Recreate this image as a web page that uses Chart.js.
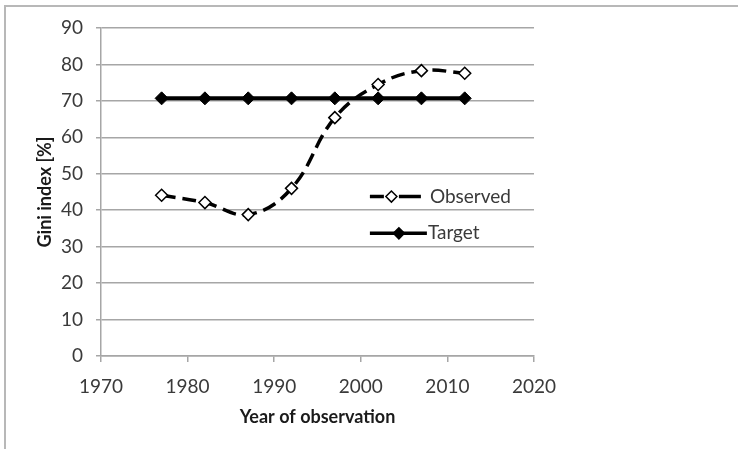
<!DOCTYPE html>
<html>
<head>
<meta charset="utf-8">
<script src="https://cdn.jsdelivr.net/npm/chart.js@4"></script>
<style>
  html, body { margin: 0; padding: 0; background: #fff; }
  #wrap { position: relative; width: 738px; height: 449px; }
  #frame { position: absolute; left: 4px; top: 5px; right: 0; bottom: 0;
           border-top: 2px solid #b8b8b8; border-left: 2px solid #b8b8b8; }
  #myChart { position: absolute; left: 0; top: 0; }
</style>
</head>
<body>
<div id="wrap">
  <div id="frame"></div>
  <canvas id="myChart" width="738" height="449"></canvas>
</div>
<script>
const years = [1977, 1982, 1987, 1992, 1997, 2002, 2007, 2012];
const observed = [44.1, 42.1, 38.8, 46.0, 65.4, 74.5, 78.3, 77.6];
const target = [70.7, 70.7, 70.7, 70.7, 70.7, 70.7, 70.7, 70.7];
const xTicks = [1970, 1980, 1990, 2000, 2010, 2020];
const yTicks = [0, 10, 20, 30, 40, 50, 60, 70, 80, 90];

const gridColor = "#a6a6a6";
const textColor = "#3a3a3a";

// legend drawn inside the plot, like the Excel original
const insideLegend = {
  id: "insideLegend",
  afterDraw(chart) {
    const c = chart.ctx;
    const a = chart.chartArea;
    const x0 = a.left + (a.right - a.left) * 0.621;
    const rows = [
      { label: "Observed", y: a.top + (a.bottom - a.top) * 0.514, dashed: true },
      { label: "Target", y: a.top + (a.bottom - a.top) * 0.626, dashed: false },
    ];
    c.save();
    c.font = "19px Lato";
    c.textBaseline = "middle";
    rows.forEach((r) => {
      c.strokeStyle = "#000";
      c.lineWidth = 3.5;
      c.beginPath();
      if (r.dashed) {
        c.moveTo(x0, r.y);
        c.lineTo(x0 + 14, r.y);
        c.moveTo(x0 + 29, r.y);
        c.lineTo(x0 + 51, r.y);
      } else {
        c.moveTo(x0, r.y);
        c.lineTo(x0 + 57, r.y);
      }
      c.stroke();
      const cx = r.dashed ? x0 + 21.5 : x0 + 29;
      const rad = 5.5;
      c.beginPath();
      c.moveTo(cx, r.y - rad);
      c.lineTo(cx + rad, r.y);
      c.lineTo(cx, r.y + rad);
      c.lineTo(cx - rad, r.y);
      c.closePath();
      c.fillStyle = r.dashed ? "#fff" : "#000";
      c.fill();
      c.lineWidth = 1.5;
      c.stroke();
      c.fillStyle = textColor;
      c.fillText(r.label, r.dashed ? x0 + 60 : x0 + 58, r.y);
    });
    c.restore();
  },
};

new Chart(document.getElementById("myChart"), {
  type: "line",
  data: {
    datasets: [
      {
        label: "Observed",
        data: years.map((y, i) => ({ x: y, y: observed[i] })),
        borderColor: "#000",
        borderWidth: 3.5,
        borderDash: [14, 7],
        tension: 0.4,
        pointStyle: "rectRot",
        pointRadius: 6,
        pointBackgroundColor: "#fff",
        pointBorderColor: "#000",
        pointBorderWidth: 1.5,
      },
      {
        label: "Target",
        data: years.map((y, i) => ({ x: y, y: target[i] })),
        borderColor: "#000",
        borderWidth: 4,
        tension: 0,
        pointStyle: "rectRot",
        pointRadius: 6.5,
        pointBackgroundColor: "#000",
        pointBorderColor: "#000",
        pointBorderWidth: 1,
      },
    ],
  },
  options: {
    responsive: false,
    animation: false,
    layout: { padding: { top: 28, right: 204, left: 0, bottom: 0 } },
    plugins: {
      legend: { display: false },
      tooltip: { enabled: false },
    },
    scales: {
      x: {
        type: "linear",
        min: xTicks[0],
        max: xTicks[xTicks.length - 1],
        afterBuildTicks: (s) => { s.ticks = xTicks.map((v) => ({ value: v })); },
        afterFit: (s) => { s.height = 93; },
        grid: { drawOnChartArea: false, drawTicks: true, tickLength: 6, color: gridColor, lineWidth: 1.5 },
        border: { color: gridColor, width: 1.5 },
        ticks: {
          padding: 13,
          color: textColor,
          font: { family: "Lato", size: 19 },
          maxRotation: 0,
          callback: (v) => String(v),
        },
        title: {
          display: true,
          text: "Year of observation",
          color: "#1a1a1a",
          font: { family: "Lato", size: 18, weight: "bold" },
          padding: { top: 0, bottom: 21 },
        },
      },
      y: {
        min: yTicks[0],
        max: yTicks[yTicks.length - 1],
        afterBuildTicks: (s) => { s.ticks = yTicks.map((v) => ({ value: v })); },
        afterFit: (s) => { s.width = 101; },
        grid: { color: gridColor, lineWidth: 1.5, tickLength: 5 },
        border: { color: gridColor, width: 1.5 },
        ticks: { padding: 13, color: textColor, font: { family: "Lato", size: 19 } },
        title: {
          display: true,
          text: "Gini index [%]",
          color: "#1a1a1a",
          font: { family: "Lato", size: 18, weight: "bold" },
          padding: { top: 34, bottom: 0 },
        },
      },
    },
  },
  plugins: [insideLegend],
});
</script>
</body>
</html>
